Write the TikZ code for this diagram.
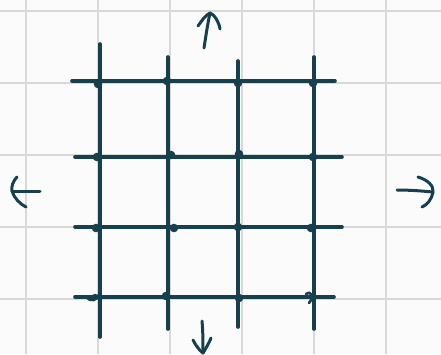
\documentclass[tikz,border=0pt]{standalone}
\usetikzlibrary{calc}
\definecolor{ink}{HTML}{17404E}
\definecolor{paper}{HTML}{FBFBFB}
\definecolor{gridc}{HTML}{D8D8D8}
\tikzset{
  bgline/.style={gridc, line width=1.2pt},
  strk/.style={ink, line width=3.6pt, line cap=round},
  pen/.style={ink, line width=3pt, line cap=round, line join=round},
  blob/.style={ink, fill=ink},
}
\begin{document}
\begin{tikzpicture}[x=1pt,y=-1pt]
\fill[paper] (0,0) rectangle (441,354);
\useasboundingbox (0,0) rectangle (441,354);
% background grid
\foreach \gx in {26,98,170,242,314,386} \draw[bgline] (\gx,0) -- (\gx,354);
\foreach \gy in {11,83,155,227,299} \draw[bgline] (0,\gy) -- (441,\gy);
% vertical strokes
\coordinate (v1t) at (100,44);  \coordinate (v1b) at (100,337);
\coordinate (v2t) at (168,57);  \coordinate (v2b) at (168,329);
\coordinate (v3t) at (238,61);  \coordinate (v3b) at (238,327);
\coordinate (v4t) at (314,57);  \coordinate (v4b) at (314,329);
\draw[strk] (v1t) -- (v1b);
\draw[strk] (v2t) -- (v2b);
\draw[strk] (v3t) -- (v3b);
\draw[strk] (v4t) -- (v4b);
% horizontal strokes
\coordinate (h1l) at (72,81);  \coordinate (h1r) at (335,81);
\coordinate (h2l) at (75,157); \coordinate (h2r) at (342,157);
\coordinate (h3l) at (75,227); \coordinate (h3r) at (342,227);
\coordinate (h4l) at (75,297); \coordinate (h4r) at (334,297);
\draw[strk] (h1l) -- (h1r);
\draw[strk] (h2l) -- (h2r);
\draw[strk] (h3l) -- (h3r);
\draw[strk] (h4l) -- (h4r);
% dots at intersections
\foreach \px/\py in {98/84,167/81,238/83,313/83,
                     97/157,171/155,239/154,313/157,
                     96/228,174/228,238/227,311/228,
                     166/296,239/298}
  \fill[blob] (\px,\py) circle (4.3);
\draw[pen, line width=2.6pt] (86,297) .. controls (90,302) and (98,301) .. (99,294);
\fill[blob] (95,297) circle (3.2);
\draw[pen, line width=2.6pt] (306,294) .. controls (310,290) and (315,296) .. (309,303);
% arrows
\coordinate (upT) at (210,13);
\draw[pen] (204,48) .. controls (206,35) and (208,22) .. (upT);
\draw[pen] (198,26) .. controls (202,20) and (206,15) .. (upT) .. controls (214,14) and (219,22) .. (220,29);
\coordinate (dnT) at (203,353);
\draw[pen] (202,321) .. controls (203,332) and (203,343) .. (dnT);
\draw[pen] (193,340) .. controls (196,346) and (200,351) .. (dnT) .. controls (206,348) and (209,343) .. (211,338);
\coordinate (lfT) at (12,191);
\draw[pen] (40,191) -- (lfT);
\draw[pen] (17,177) .. controls (13,181) and (11,187) .. (lfT) .. controls (14,198) and (20,204) .. (26,207);
\coordinate (rtT) at (433,192);
\draw[pen] (397,190) .. controls (410,190) and (422,191) .. (rtT);
\draw[pen] (418,177) .. controls (428,180) and (434,186) .. (rtT) .. controls (432,199) and (427,205) .. (422,207);
\end{tikzpicture}
\end{document}
